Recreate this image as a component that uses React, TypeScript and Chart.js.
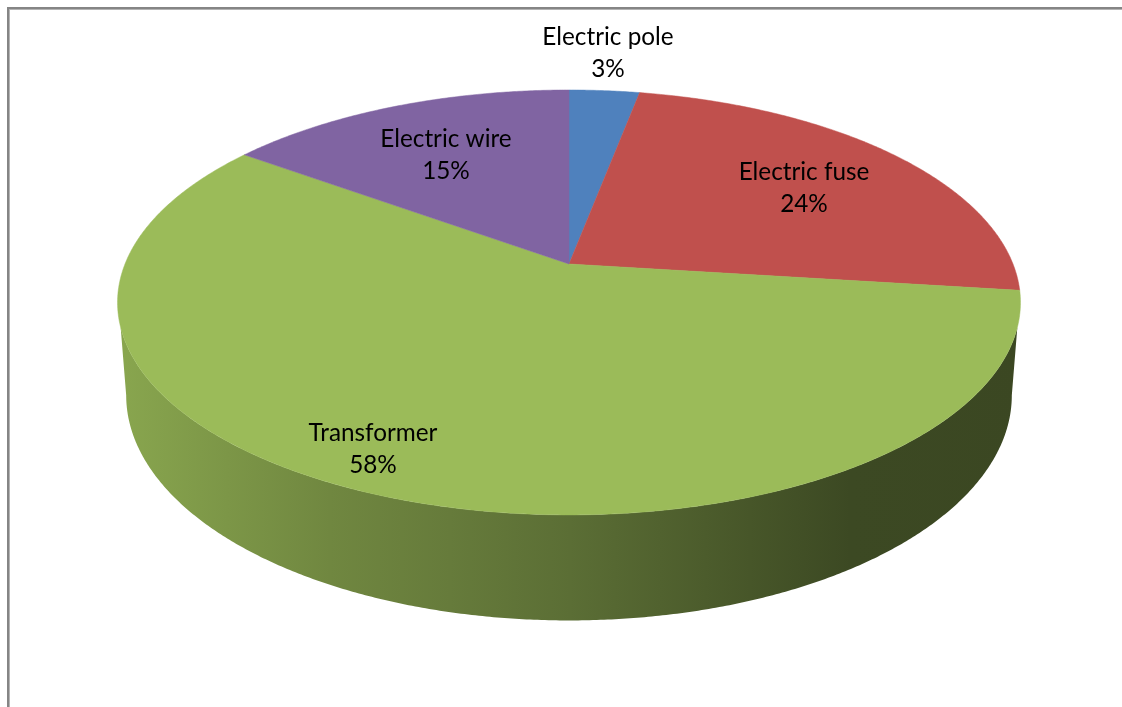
import React, { useEffect, useRef } from "react";
import { Chart, ArcElement, PieController, registerables } from "chart.js";

// Chart content
const categories = ["Electric pole", "Electric fuse", "Transformer", "Electric wire"];
const shares = [3, 24, 58, 15];
const sliceColors = ["#4f81bd", "#c0504d", "#9bbb59", "#8064a2"];

// Where each two-line data label is centred
const labelCentres = [
  [608, 53],
  [804, 188],
  [373, 449],
  [446, 155],
];
const labelFont = '24.3px Lato, "Open Sans", sans-serif';
const labelLineGap = 32.5;

// Perspective projection of the disc: the rim is a circle seen through a
// homography, so the hub sits above the centre of the drawn ellipse.
const HUB_X = 569;
const TILT = -0.181;
const topRim = { a: 444, b: 205.5, hubY: 264 };
const bottomRim = { a: 435.5, b: 217.8, hubY: 354.5 };

// Silhouette angles of the side wall on each rim
const deg = Math.PI / 180;
const TOP_FRONT = [17 * deg, 163 * deg];
const BOTTOM_FRONT = [10.4 * deg, 169.6 * deg];

// Brightness of the wall from left to right, as [x, factor relative to the face]
const wallShading = [
  [125, 0.88],
  [330, 0.72],
  [450, 0.66],
  [570, 0.59],
  [750, 0.46],
  [850, 0.39],
  [1025, 0.38],
];

type Rim = { a: number; b: number; hubY: number };

const project = (theta: number, rim: Rim): [number, number] => {
  const u = Math.cos(theta);
  const v = Math.sin(theta);
  const w = 1 + TILT * v;
  return [HUB_X + (rim.a * u) / w, rim.hubY + (rim.b * v) / w];
};

const traceRim = (ctx: CanvasRenderingContext2D, from: number, to: number, rim: Rim) => {
  const steps = Math.max(2, Math.ceil(Math.abs(to - from) / (0.4 * deg)));
  for (let i = 0; i <= steps; i++) {
    const [x, y] = project(from + ((to - from) * i) / steps, rim);
    ctx.lineTo(x, y);
  }
};

const parseHex = (hex: string) => [1, 3, 5].map((i) => parseInt(hex.slice(i, i + 2), 16));

// Arc element that paints itself as a tilted 3D slice with a front wall
class TiltedArc extends ArcElement {
  static id = "tiltedArc";

  draw(ctx: CanvasRenderingContext2D) {
    const { startAngle, endAngle } = this.getProps(["startAngle", "endAngle"], true);
    const color = this.options.backgroundColor as string;

    const topFrom = Math.max(startAngle, TOP_FRONT[0]);
    const topTo = Math.min(endAngle, TOP_FRONT[1]);
    if (topTo > topFrom) {
      const [r, g, b] = parseHex(color);
      const x0 = wallShading[0][0];
      const x1 = wallShading[wallShading.length - 1][0];
      const fill = ctx.createLinearGradient(x0, 0, x1, 0);
      wallShading.forEach(([x, f]) => {
        fill.addColorStop(
          (x - x0) / (x1 - x0),
          `rgb(${Math.round(r * f)},${Math.round(g * f)},${Math.round(b * f)})`
        );
      });
      ctx.beginPath();
      traceRim(ctx, topFrom, topTo, topRim);
      traceRim(ctx, Math.min(endAngle, BOTTOM_FRONT[1]), Math.max(startAngle, BOTTOM_FRONT[0]), bottomRim);
      ctx.closePath();
      ctx.fillStyle = fill;
      ctx.fill();
    }

    ctx.beginPath();
    ctx.moveTo(HUB_X, topRim.hubY);
    traceRim(ctx, startAngle, endAngle, topRim);
    ctx.closePath();
    ctx.fillStyle = color;
    ctx.fill();
    ctx.strokeStyle = color;
    ctx.lineWidth = 0.5;
    ctx.stroke();
  }
}

class TiltedPie extends PieController {
  static id = "tiltedPie";
  static defaults = { dataElementType: "tiltedArc" };
}

// Thin grey frame along the top and left of the chart area
const framePlugin = {
  id: "frame",
  beforeDraw(chart: Chart) {
    const { ctx, width, height } = chart;
    ctx.save();
    ctx.fillStyle = "#ffffff";
    ctx.fillRect(0, 0, width, height);
    ctx.fillStyle = "#b4b4b4";
    ctx.fillRect(7, 7, width - 7, 3);
    ctx.fillRect(7, 7, 3, height - 7);
    ctx.fillStyle = "#858585";
    ctx.fillRect(7, 7, width - 7, 2);
    ctx.fillRect(7, 7, 2, height - 7);
    ctx.restore();
  },
};

// Category name and percentage above each other
const sliceLabelPlugin = {
  id: "sliceLabels",
  afterDatasetsDraw(chart: Chart) {
    const { ctx } = chart;
    const values = chart.data.datasets[0].data as number[];
    ctx.save();
    ctx.font = labelFont;
    ctx.fillStyle = "#000000";
    ctx.textAlign = "center";
    ctx.textBaseline = "middle";
    values.forEach((value, i) => {
      const [x, y] = labelCentres[i];
      ctx.fillText(String(chart.data.labels![i]), x, y - labelLineGap / 2);
      ctx.fillText(`${value}%`, x, y + labelLineGap / 2);
    });
    ctx.restore();
  },
};

Chart.register(...registerables, TiltedArc, TiltedPie);

export default function App() {
  const canvasRef = useRef<HTMLCanvasElement>(null);

  useEffect(() => {
    const chart = new Chart(canvasRef.current!, {
      type: "tiltedPie" as any,
      data: {
        labels: categories,
        datasets: [{ data: shares, backgroundColor: sliceColors, borderWidth: 0 }],
      },
      options: {
        animation: false,
        responsive: false,
        plugins: { legend: { display: false }, tooltip: { enabled: false } },
      },
      plugins: [framePlugin, sliceLabelPlugin],
    });
    return () => chart.destroy();
  }, []);

  return (
    <canvas
      ref={canvasRef}
      width={1122}
      height={707}
      style={{ position: "fixed", left: 0, top: 0, display: "block" }}
    />
  );
}
